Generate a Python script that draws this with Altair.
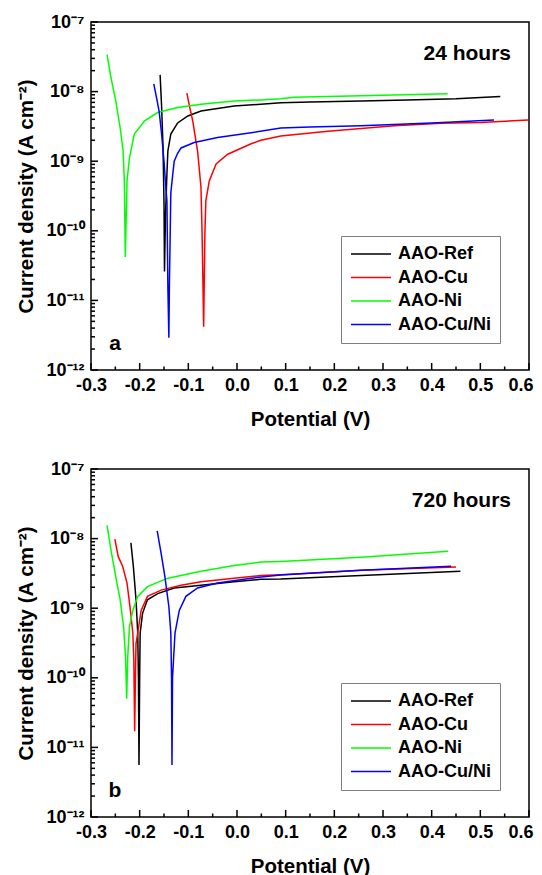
import altair as alt
import pandas as pd

FONT = "Liberation Sans, Arial, sans-serif"
SAMPLES = ["AAO-Ref", "AAO-Cu", "AAO-Ni", "AAO-Cu/Ni"]
COLORS = ["#000000", "#ff0000", "#00ff00", "#0000ff"]

# ---------------- panel a : 24 hours ----------------
ref24_v = [-0.158, -0.155, -0.152, -0.150, -0.149, -0.147, -0.144, -0.142, -0.136, -0.122,
           -0.101, -0.074, -0.006, 0.049, 0.090, 0.150, 0.255, 0.350, 0.450, 0.541]
ref24_i = [1.74e-8, 6.3e-9, 1.6e-9, 2.5e-10, 2.6e-11, 1.6e-10, 6.6e-10, 1.41e-9, 2.45e-9, 3.55e-9,
           4.47e-9, 5.25e-9, 6.2e-9, 6.6e-9, 6.9e-9, 7.1e-9, 7.3e-9, 7.6e-9, 7.9e-9, 8.5e-9]

cu24_v = [-0.103, -0.097, -0.091, -0.081, -0.074, -0.0717, -0.0685, -0.066, -0.064, -0.057,
          -0.043, -0.019, 0.029, 0.049, 0.090, 0.187, 0.323, 0.420, 0.501, 0.598]
cu24_i = [9.5e-9, 5.9e-9, 3.8e-9, 1.4e-9, 4.2e-10, 8.9e-11, 4.2e-12, 8.9e-11, 2.7e-10, 5.2e-10,
          9.1e-10, 1.26e-9, 1.78e-9, 2.0e-9, 2.3e-9, 2.7e-9, 3.24e-9, 3.5e-9, 3.6e-9, 3.9e-9]

ni24_v = [-0.267, -0.259, -0.249, -0.240, -0.234, -0.2315, -0.2295, -0.226, -0.221, -0.211,
          -0.190, -0.163, -0.122, -0.074, -0.006, 0.049, 0.090, 0.117, 0.255, 0.433]
ni24_i = [3.4e-8, 1.58e-8, 7.3e-9, 3.0e-9, 1.4e-9, 5.2e-10, 4.2e-11, 5.2e-10, 1.12e-9, 2.45e-9,
          3.8e-9, 5.0e-9, 5.9e-9, 6.6e-9, 7.3e-9, 7.6e-9, 7.9e-9, 8.3e-9, 8.7e-9, 9.3e-9]

cuni24_v = [-0.171, -0.165, -0.160, -0.155, -0.150, -0.146, -0.144, -0.142, -0.140, -0.139,
            -0.136, -0.132, -0.129, -0.122, -0.115, -0.088, -0.040, 0.029, 0.090, 0.150,
            0.255, 0.400, 0.528]
cuni24_i = [1.29e-8, 7.9e-9, 5.2e-9, 2.5e-9, 1.0e-9, 4.0e-10, 2.7e-10, 1.5e-11, 2.9e-12, 1.5e-11,
            3.5e-10, 6.5e-10, 1.0e-9, 1.3e-9, 1.55e-9, 1.86e-9, 2.19e-9, 2.57e-9, 3.0e-9, 3.1e-9,
            3.24e-9, 3.55e-9, 3.9e-9]

# ---------------- panel b : 720 hours ----------------
ref720_v = [-0.218, -0.213, -0.2075, -0.204, -0.2025, -0.2014, -0.200, -0.199, -0.194, -0.184,
            -0.163, -0.129, -0.074, -0.006, 0.049, 0.090, 0.255, 0.459]
ref720_i = [8.7e-9, 4.0e-9, 1.32e-9, 4.4e-10, 1.0e-10, 5.6e-12, 1.0e-10, 4.4e-10, 8.5e-10, 1.32e-9,
            1.62e-9, 1.95e-9, 2.14e-9, 2.4e-9, 2.6e-9, 2.63e-9, 2.95e-9, 3.4e-9]

cu720_v = [-0.251, -0.244, -0.235, -0.226, -0.219, -0.214, -0.212, -0.2103, -0.2085, -0.2075,
           -0.204, -0.197, -0.184, -0.156, -0.115, -0.074, -0.006, 0.049, 0.090, 0.255, 0.450]
cu720_i = [9.8e-9, 5.5e-9, 4.0e-9, 2.3e-9, 9.3e-10, 4.4e-10, 1.8e-10, 1.7e-11, 1.2e-10, 3.1e-10,
           4.4e-10, 9.3e-10, 1.48e-9, 1.82e-9, 2.14e-9, 2.4e-9, 2.7e-9, 2.95e-9, 3.02e-9, 3.5e-9, 3.9e-9]

ni720_v = [-0.267, -0.259, -0.249, -0.240, -0.233, -0.229, -0.2267, -0.2245, -0.221, -0.214,
           -0.204, -0.184, -0.142, -0.074, -0.006, 0.049, 0.090, 0.255, 0.434]
ni720_i = [1.55e-8, 6.9e-9, 2.8e-9, 1.32e-9, 5.4e-10, 2.0e-10, 5.0e-11, 2.0e-10, 5.4e-10, 9.3e-10,
           1.48e-9, 2.04e-9, 2.7e-9, 3.4e-9, 4.1e-9, 4.6e-9, 4.7e-9, 5.4e-9, 6.6e-9]

cuni720_v = [-0.164, -0.156, -0.148, -0.140, -0.136, -0.1345, -0.1336, -0.1325, -0.1274, -0.1186,
             -0.105, -0.081, -0.040, 0.029, 0.090, 0.255, 0.440]
cuni720_i = [1.29e-8, 6.2e-9, 2.8e-9, 1.05e-9, 4.4e-10, 1.0e-10, 5.6e-12, 1.0e-10, 4.4e-10, 9.3e-10,
             1.48e-9, 1.95e-9, 2.3e-9, 2.7e-9, 3.0e-9, 3.5e-9, 4.0e-9]

X_TICKS = [-0.3, -0.2, -0.1, 0.0, 0.1, 0.2, 0.3, 0.4, 0.5, 0.6]
X_MINOR = [-0.25, -0.15, -0.05, 0.05, 0.15, 0.25, 0.35, 0.45, 0.55]
Y_TICKS = [1e-12, 1e-11, 1e-10, 1e-9, 1e-8, 1e-7]
Y_MINOR = [m * d for d in [1e-12, 1e-11, 1e-10, 1e-9, 1e-8] for m in range(2, 10)]


def frame(series):
    rows = []
    for name, vs, cs in series:
        for k, (v, c) in enumerate(zip(vs, cs)):
            rows.append({"Sample": name, "V": v, "I": c, "k": k})
    return pd.DataFrame(rows)


df24 = frame([("AAO-Ref", ref24_v, ref24_i), ("AAO-Cu", cu24_v, cu24_i),
              ("AAO-Ni", ni24_v, ni24_i), ("AAO-Cu/Ni", cuni24_v, cuni24_i)])
df720 = frame([("AAO-Ref", ref720_v, ref720_i), ("AAO-Cu", cu720_v, cu720_i),
               ("AAO-Ni", ni720_v, ni720_i), ("AAO-Cu/Ni", cuni720_v, cuni720_i)])

W, H = 438, 348
xs = alt.Scale(domain=[-0.3, 0.6], nice=False, zero=False)
ys = alt.Scale(type="log", domain=[1e-12, 1e-7], nice=False)

# last x label is right-aligned (slightly shifted) so the page does not overflow its width
x_axis = alt.Axis(values=X_TICKS, orient="bottom", ticks=False, domain=False, grid=False,
                  labelExpr="datum.value < -0.001 ? '-' + format(-datum.value, '.1f') : format(abs(datum.value), '.1f')",
                  labelAlign={"condition": {"test": "datum.value > 0.55", "value": "right"}, "value": "center"},
                  labelOffset={"condition": {"test": "datum.value > 0.55", "value": 4}, "value": 0},
                  labelFontSize=18, labelPadding=6, labelFlush=False, labelOverlap=False,
                  title="Potential (V)", titleFontSize=20.5, titlePadding=15)
y_axis = alt.Axis(values=Y_TICKS, orient="left", ticks=False, domain=False, grid=False,
                  labelExpr="['10⁻¹²','10⁻¹¹','10⁻¹⁰','10⁻⁹','10⁻⁸','10⁻⁷'][round(log(datum.value)/LN10) + 12]",
                  labelFontSize=18, labelPadding=7, labelFlush=False, labelOverlap=False,
                  title="Current density (A cm⁻²)", titleFontSize=20.5, titlePadding=9.5)

xticks_major = pd.DataFrame({"t": X_TICKS})
xticks_minor = pd.DataFrame({"t": X_MINOR})
yticks_major = pd.DataFrame({"t": Y_TICKS})
yticks_minor = pd.DataFrame({"t": Y_MINOR})


def xtick_layer(df, length):
    return alt.Chart(df).mark_rule(color="black", strokeWidth=1.5).encode(
        x=alt.X("t:Q", scale=xs, axis=x_axis), y=alt.value(H), y2=alt.value(H - length))


def ytick_layer(df, length):
    return alt.Chart(df).mark_rule(color="black", strokeWidth=1.5).encode(
        y=alt.Y("t:Q", scale=ys, axis=y_axis), x=alt.value(0), x2=alt.value(length))


def panel(df, hours, letter):
    leg = alt.Legend(orient="none", legendX=250, legendY=214, title=None,
                     symbolType="stroke", symbolSize=1600, symbolStrokeWidth=1.5,
                     labelFont=FONT, labelFontSize=18, labelFontWeight="bold", labelColor="black",
                     labelOffset=6, padding=9, rowPadding=5.5, clipHeight=18,
                     strokeColor="#7f7f7f", fillColor="white", labelLimit=300)
    lines = alt.Chart(df).mark_line(strokeWidth=1.5, clip=True).encode(
        x=alt.X("V:Q", scale=xs, axis=x_axis),
        y=alt.Y("I:Q", scale=ys, axis=y_axis),
        color=alt.Color("Sample:N", scale=alt.Scale(domain=SAMPLES, range=COLORS), legend=leg),
        order="k:Q",
    )
    dummy = alt.Data(values=[{}])
    hours_txt = alt.Chart(dummy).mark_text(text=hours, font=FONT, fontSize=21, fontWeight="bold",
                                           align="right", baseline="middle", color="black").encode(
        x=alt.value(420), y=alt.value(32))
    letter_txt = alt.Chart(dummy).mark_text(text=letter, font=FONT, fontSize=21, fontWeight="bold",
                                            align="center", baseline="middle", color="black").encode(
        x=alt.value(24), y=alt.value(322))
    return alt.layer(
        lines,
        xtick_layer(xticks_major, 7), xtick_layer(xticks_minor, 3.5),
        ytick_layer(yticks_major, 7), ytick_layer(yticks_minor, 4),
        hours_txt, letter_txt,
    ).properties(width=W, height=H)


chart = alt.vconcat(panel(df24, "24 hours", "a"), panel(df720, "720 hours", "b"), spacing=28
                    ).resolve_scale(color="independent").resolve_legend(color="independent"
                    ).properties(padding={"left": 7, "top": 4, "right": 0, "bottom": 0}
                    ).configure_view(stroke="black", strokeWidth=1.5
                    ).configure_axis(labelFont=FONT, titleFont=FONT, labelFontWeight="bold",
                                     titleFontWeight="bold", labelColor="black", titleColor="black")

chart.save("out.html", embed_options={"renderer": "svg", "actions": False})
